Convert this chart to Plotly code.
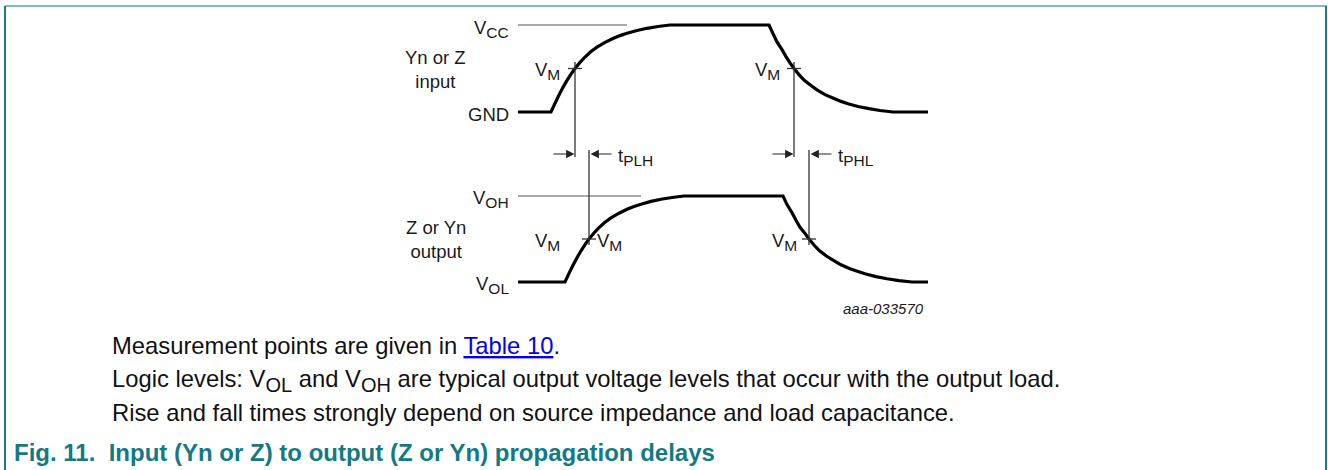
import plotly.graph_objects as go

# ---------------- data (time in arbitrary units, levels normalised 0..1) ----------------
# Input waveform (Yn or Z input): GND = 0, VCC = 1
in_t = [0, 33, 37, 41, 45, 49, 53, 57, 62, 67, 73, 79, 87, 95, 102, 109, 119, 129, 140, 152,
        251, 255, 259, 264, 268, 272, 276, 281, 286, 293, 299, 307, 316, 323, 330, 340, 351, 362, 375, 410]
in_v = [0, 0, 0.10, 0.195, 0.283, 0.363, 0.435, 0.50, 0.57, 0.632, 0.695, 0.745, 0.80, 0.845, 0.878, 0.905,
        0.937, 0.962, 0.983, 1.0,
        1.0, 0.90, 0.805, 0.717, 0.637, 0.565, 0.50, 0.43, 0.368, 0.305, 0.255, 0.20, 0.155, 0.122, 0.095,
        0.063, 0.038, 0.017, 0, 0]
# Output waveform (Z or Yn output): VOL = 0, VOH = 1
out_t = [0, 47, 51, 55, 59, 63, 67, 71, 76, 81, 87, 93, 101, 109, 116, 123, 133, 143, 154, 166,
         265, 269, 274, 278, 282, 287, 291, 296, 301, 308, 315, 323, 332, 340, 347, 358, 369, 381, 394, 410]
out_v = [0, 0, 0.10, 0.195, 0.283, 0.363, 0.435, 0.50, 0.57, 0.632, 0.695, 0.745, 0.80, 0.845, 0.878, 0.905,
         0.937, 0.962, 0.983, 1.0,
         1.0, 0.90, 0.805, 0.717, 0.637, 0.565, 0.50, 0.43, 0.368, 0.305, 0.255, 0.20, 0.155, 0.122, 0.095,
         0.063, 0.038, 0.017, 0, 0]
VM = 0.5
in_vm_t = [57, 276]     # input crossings of VM (rise, fall)
out_vm_t = [71, 291]    # output crossings of VM (rise, fall)
vcc_line_end = 109
voh_line_end = 123

# ---------------- layout helpers (pixel geometry) ----------------
W, H = 1328, 470
X0 = 518                           # pixel of t=0 (1 time unit = 1 px)
IN_BASE, IN_SPAN = 112, 87         # pixel y of GND, pixel height of swing
OUT_BASE, OUT_SPAN = 282, 86

def px2t(x):
    return x - X0

def py2vin(y):
    return (IN_BASE - y) / IN_SPAN

def py2vout(y):
    return (OUT_BASE - y) / OUT_SPAN

def P(x, y):
    return x / W, 1 - y / H

fig = go.Figure()

wave = dict(color="black", width=3.2, simplify=False, shape="linear")
fig.add_trace(go.Scatter(x=in_t, y=in_v, mode="lines", line=wave, yaxis="y", hoverinfo="skip"))
fig.add_trace(go.Scatter(x=out_t, y=out_v, mode="lines", line=wave, yaxis="y2", hoverinfo="skip"))

thin = dict(color="#555555", width=1.2)
fig.add_trace(go.Scatter(x=[0, vcc_line_end], y=[1, 1], mode="lines", line=thin, yaxis="y", hoverinfo="skip"))
fig.add_trace(go.Scatter(x=[0, voh_line_end], y=[1, 1], mode="lines", line=thin, yaxis="y2", hoverinfo="skip"))

tick_half = 7
cross = dict(color="#333333", width=1.3)
for t in in_vm_t:
    fig.add_trace(go.Scatter(x=[t, t], y=[py2vin(62), py2vin(157)], mode="lines", line=cross,
                             yaxis="y", hoverinfo="skip"))
    fig.add_trace(go.Scatter(x=[t - tick_half, t + tick_half], y=[VM, VM], mode="lines", line=cross,
                             yaxis="y", hoverinfo="skip"))
for t in out_vm_t:
    fig.add_trace(go.Scatter(x=[t, t], y=[py2vout(150), py2vout(245)], mode="lines", line=cross,
                             yaxis="y2", hoverinfo="skip"))
    fig.add_trace(go.Scatter(x=[t - tick_half, t + tick_half], y=[VM, VM], mode="lines", line=cross,
                             yaxis="y2", hoverinfo="skip"))

annotations = []
arrow_y = py2vin(154)
for tin, tout in zip(in_vm_t, out_vm_t):
    annotations.append(dict(x=tin - 0.5, y=arrow_y, ax=tin - 23, ay=arrow_y, xref="x", yref="y",
                            axref="x", ayref="y", showarrow=True, arrowhead=2, arrowsize=1.4,
                            arrowwidth=1.2, arrowcolor="#222222", text=""))
    annotations.append(dict(x=tout + 1.5, y=arrow_y, ax=tout + 24, ay=arrow_y, xref="x", yref="y",
                            axref="x", ayref="y", showarrow=True, arrowhead=2, arrowsize=1.4,
                            arrowwidth=1.2, arrowcolor="#222222", text=""))

FAM = "Arial, Liberation Sans, sans-serif"
LF = dict(family=FAM, size=18.5, color="#1a1a1a")

def sub(s, size):
    return '<sub><span style="font-size:%gpx">%s</span></sub>' % (size, s)

def label(text, x, y, xanchor="center", font=LF, yanchor="middle"):
    px, py = P(x, y)
    annotations.append(dict(text=text, x=px, y=py, xref="paper", yref="paper", xanchor=xanchor,
                            yanchor=yanchor, showarrow=False, font=font, align="center"))

s = 15.5
label("V" + sub("CC", s), 511, 29, "right")
label("Yn or Z<br>input", 436, 69)
label("GND", 511, 114, "right")
label("V" + sub("M", s), 562, 71, "right")
label("V" + sub("M", s), 782, 71, "right")
label("t" + sub("PLH", s), 616, 157, "left")
label("t" + sub("PHL", s), 836, 157, "left")
label("V" + sub("OH", s), 511, 199, "right")
label("Z or Yn<br>output", 436, 239)
label("V" + sub("OL", s), 511, 285, "right")
label("V" + sub("M", s), 562, 242, "right")
label("V" + sub("M", s), 595, 242, "left")
label("V" + sub("M", s), 799, 242, "right")
label("<i>aaa-033570</i>", 883, 308, font=dict(family=FAM, size=15, color="#1a1a1a"))

BF = dict(family=FAM, size=23.8, color="#111111")
bs = 20
label('Measurement points are given in '
      '<span style="color:#0000EE;text-decoration:underline">Table 10</span>.', 110, 345, "left", BF)
label("Logic levels: V" + sub("OL", bs) + " and V" + sub("OH", bs) +
      " are typical output voltage levels that occur with the output load.", 110, 380, "left", BF)
label("Rise and fall times strongly depend on source impedance and load capacitance.", 110, 412,
      "left", BF)
label("<b>Fig. 11.\u00a0\u00a0Input (Yn or Z) to output (Z or Yn) propagation delays</b>", 12, 452, "left",
      dict(family=FAM, size=24, color="#147a82"))

shapes = [
    dict(type="line", xref="paper", yref="paper", x0=5 / W, x1=1327 / W, y0=1 - 6 / H, y1=1 - 6 / H,
         line=dict(color="#7dbcc1", width=2)),
    dict(type="line", xref="paper", yref="paper", x0=5 / W, x1=5 / W, y0=1 - 6 / H, y1=0,
         line=dict(color="#1e7c82", width=2)),
    dict(type="line", xref="paper", yref="paper", x0=1326 / W, x1=1326 / W, y0=1 - 6 / H, y1=0,
         line=dict(color="#1e7c82", width=2)),
]

fig.update_layout(
    width=W, height=H, autosize=False, margin=dict(l=0, r=0, t=0, b=0),
    paper_bgcolor="white", plot_bgcolor="white", showlegend=False,
    xaxis=dict(range=[px2t(0), px2t(W)], visible=False, fixedrange=True),
    yaxis=dict(range=[py2vin(H), py2vin(0)], visible=False, fixedrange=True),
    yaxis2=dict(range=[py2vout(H), py2vout(0)], visible=False, overlaying="y", fixedrange=True),
    annotations=annotations, shapes=shapes,
)

fig.write_html("out.html", post_script="document.body.style.margin='0px';document.body.style.overflow='hidden';",
               config={"displayModeBar": False})
